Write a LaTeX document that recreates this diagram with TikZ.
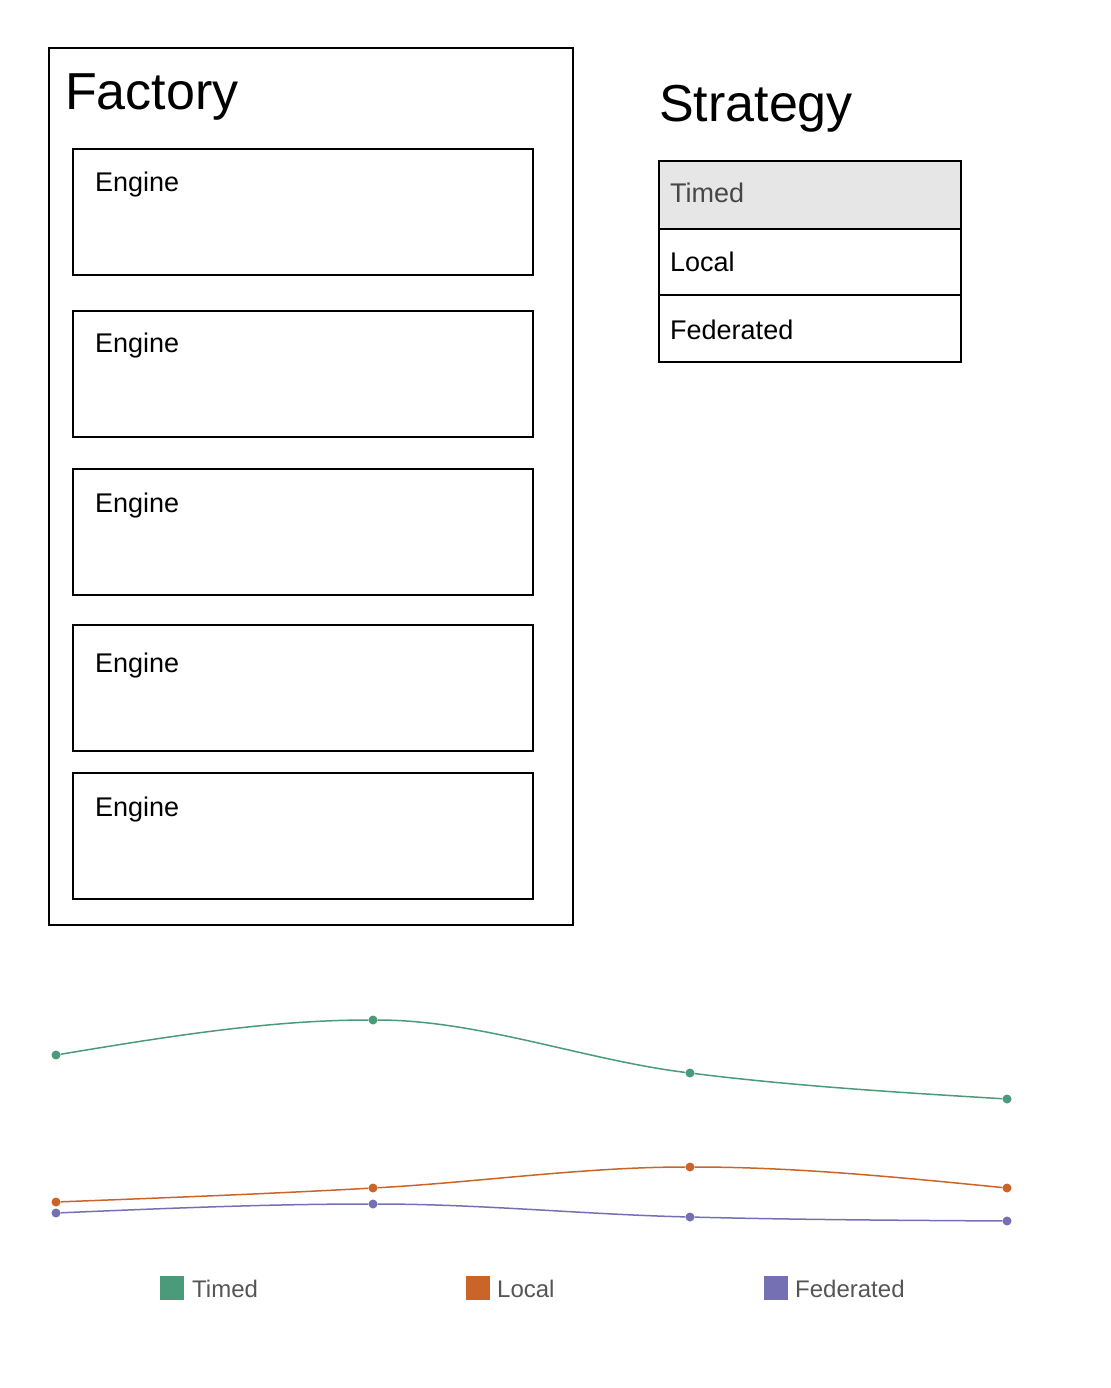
\documentclass[tikz,border=0pt]{standalone}
\usepackage{fontspec}
\setmainfont{Liberation Sans}
\usepackage{xcolor}
\usetikzlibrary{positioning}
\definecolor{timedgreen}{HTML}{4B9B7A}
\definecolor{localorange}{HTML}{CB6428}
\definecolor{fedpurple}{HTML}{7570B3}
\definecolor{rowgray}{HTML}{E6E6E6}
\definecolor{legendgray}{HTML}{555555}

\begin{document}
\begin{tikzpicture}[x=1pt, y=-1pt,
    frame/.style = {draw, line width=1.6pt, inner sep=0pt},
    title/.style = {anchor=base west, inner sep=0pt, font=\fontsize{52}{60}\selectfont},
    label/.style = {anchor=base west, inner sep=0pt, font=\fontsize{27}{32}\selectfont},
    legend/.style = {anchor=base west, inner sep=0pt, text=legendgray, font=\fontsize{24}{28}\selectfont},
    dot/.style = {circle, inner sep=0pt, minimum size=9pt},
    series/.style = {line width=1.5pt}]
  \useasboundingbox (0,0) rectangle (1110,1388);

  % Factory frame with its engines
  \node(factory)[frame, minimum width = 524, minimum height = 877] at (311, 486.5) {};
  \node(factorytitle)[title] at (65, 110) {Factory};
  \foreach \i/\y/\b in {1/212/192, 2/374/352, 3/532/512, 4/688/672, 5/836/816} {
    \node(engine\i)[frame, minimum width = 460, minimum height = 126] at (303, \y) {};
    \node(enginetext\i)[label] at (95, \b) {Engine};
  }

  % Strategy list
  \node(strategytitle)[title] at (659, 122) {Strategy};
  \node(timedrow)[frame, fill=rowgray, minimum width = 302, minimum height = 68] at (810, 195) {};
  \node(localrow)[frame, minimum width = 302, minimum height = 66] at (810, 262) {};
  \node(fedrow)[frame, minimum width = 302, minimum height = 67] at (810, 328.5) {};
  \node(timedtext)[label, text=black!72] at (670, 203) {Timed};
  \node(localtext)[label] at (670, 271) {Local};
  \node(fedtext)[label] at (670, 339) {Federated};

  % Data points
  \foreach \n/\x/\a/\b/\c in {1/56/1055/1202/1213, 2/373/1020/1188/1204,
                             3/690/1073/1167/1217, 4/1007/1099/1188/1221} {
    \node(t\n)[dot, fill=timedgreen] at (\x, \a) {};
    \node(l\n)[dot, fill=localorange] at (\x, \b) {};
    \node(f\n)[dot, fill=fedpurple] at (\x, \c) {};
  }

  % Curves
  \draw[series, timedgreen] (t1) .. controls +(105.67,-17.5) and +(-105.67,0) .. (t2)
                                 .. controls +(105.67,0) and +(-105.67,-13.17) .. (t3)
                                 .. controls +(105.67,13.17) and +(-105.67,-6.42) .. (t4);
  \draw[series, localorange] (l1) .. controls +(105.67,-4.08) and +(-105.67,5.83) .. (l2)
                                  .. controls +(105.67,-5.83) and +(-105.67,0) .. (l3)
                                  .. controls +(105.67,0) and +(-105.67,-10.5) .. (l4);
  \draw[series, fedpurple] (f1) .. controls +(105.67,-4.5) and +(-105.67,0) .. (f2)
                                .. controls +(105.67,0) and +(-105.67,-2.67) .. (f3)
                                .. controls +(105.67,2.67) and +(-105.67,-0.67) .. (f4);

  % Legend
  \node(timedkey)[fill=timedgreen, minimum size=24pt, inner sep=0pt] at (172, 1288) {};
  \node(timedname)[legend] at (192, 1297) {Timed};
  \node(localkey)[fill=localorange, minimum size=24pt, inner sep=0pt] at (478, 1288) {};
  \node(localname)[legend] at (497, 1297) {Local};
  \node(fedkey)[fill=fedpurple, minimum size=24pt, inner sep=0pt] at (776, 1288) {};
  \node(fedname)[legend] at (795, 1297) {Federated};

\end{tikzpicture}
\end{document}
